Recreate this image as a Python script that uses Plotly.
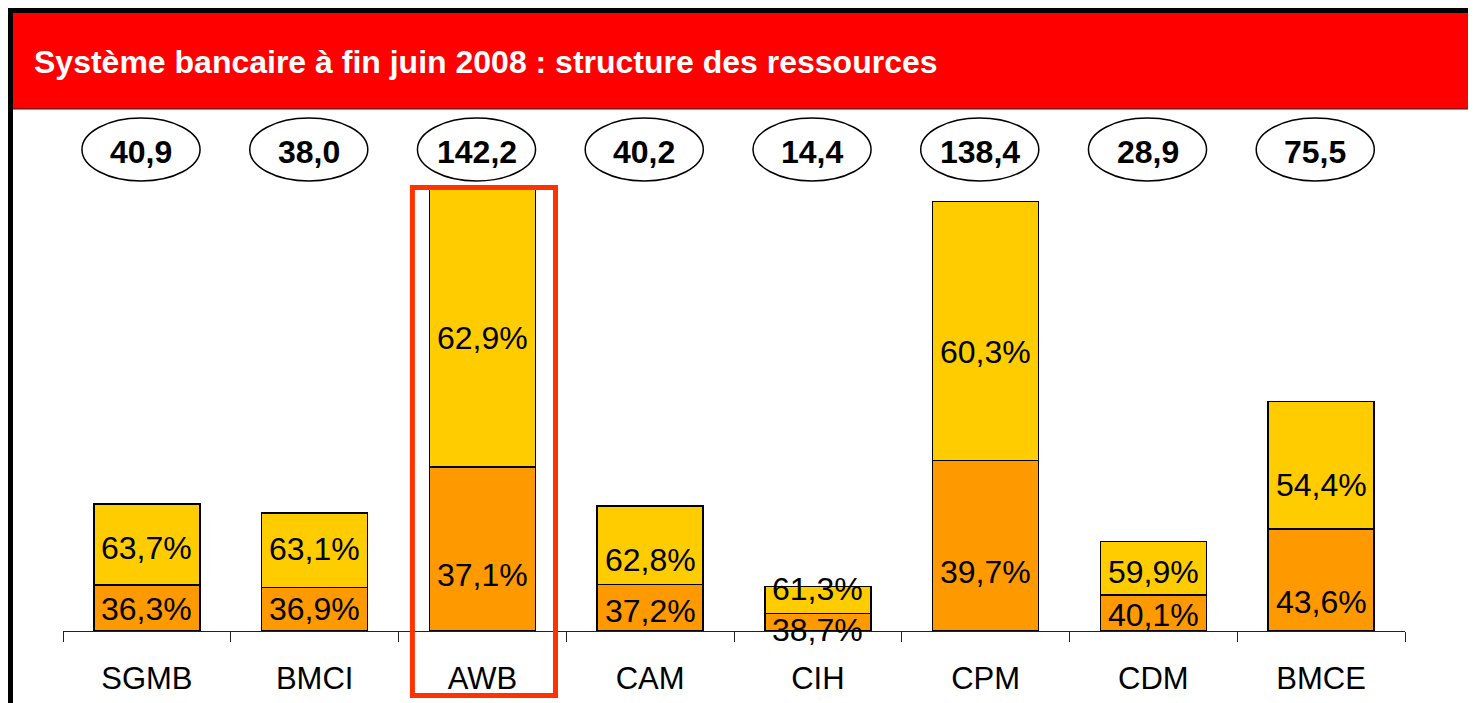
import plotly.graph_objects as go

# Ressources par banque (MMDH) et structure en %
banks = ["SGMB", "BMCI", "AWB", "CAM", "CIH", "CPM", "CDM", "BMCE"]
totals = [40.9, 38.0, 142.2, 40.2, 14.4, 138.4, 28.9, 75.5]
pct_low = [36.3, 36.9, 37.1, 37.2, 38.7, 39.7, 40.1, 43.6]
pct_high = [63.7, 63.1, 62.9, 62.8, 61.3, 60.3, 59.9, 54.4]

# label nudges (px, + = up), as placed in the original chart
shift_low = [-1, 0, -26, -3, -8, -26, -2, -22]
shift_high = [-4, 1, -10, -15, 11, -21, -4, -20]

FONT = "Liberation Sans, Arial, sans-serif"
W, H = 1476, 703
OFF = 8  # page body margin


def px(x):
    return (x - OFF) / W


def py(y):
    return (H - (y - OFF)) / H


def fr(v, pct=False):
    s = f"{v:.1f}".replace(".", ",")
    return s + "%" if pct else s


low_vals = [t * p / 100 for t, p in zip(totals, pct_low)]
high_vals = [t * p / 100 for t, p in zip(totals, pct_high)]

fig = go.Figure()
for vals, col in [(low_vals, "#FF9900"), (high_vals, "#FFCC00")]:
    fig.add_trace(go.Bar(
        x=banks, y=vals,
        marker=dict(color=col, line=dict(color="black", width=1.5)),
        hoverinfo="skip",
    ))

# plot area in page pixels
x_left, x_right = 63, 1405
y_base, y_top = 631, 109
px_per_unit = 3.105

shapes = []
# red title band + frame
shapes.append(dict(type="rect", xref="paper", yref="paper",
                   x0=px(13), x1=1.02, y0=py(109), y1=py(13),
                   fillcolor="#FF0000", line=dict(width=0), layer="below"))
shapes.append(dict(type="line", xref="paper", yref="paper",
                   x0=px(13), x1=1.02, y0=py(109), y1=py(109),
                   line=dict(color="#222222", width=1.2)))
shapes.append(dict(type="line", xref="paper", yref="paper",
                   x0=px(8), x1=1.02, y0=py(10.5), y1=py(10.5),
                   line=dict(color="black", width=5)))
shapes.append(dict(type="line", xref="paper", yref="paper",
                   x0=px(10.5), x1=px(10.5), y0=-0.02, y1=py(8),
                   line=dict(color="black", width=5)))

annotations = [dict(text="<b>Système bancaire à fin juin 2008 : structure des ressources</b>",
                    xref="paper", yref="paper", x=px(32), y=py(62),
                    xanchor="left", yanchor="middle", showarrow=False,
                    font=dict(family=FONT, size=32, color="white"))]

# percentage labels inside the segments
for b, lo, hi, pl, ph, sl, sh in zip(banks, low_vals, high_vals, pct_low, pct_high,
                                     shift_low, shift_high):
    annotations.append(dict(text=fr(pl, True), x=b, y=lo / 2, yshift=sl,
                            xref="x", yref="y", showarrow=False,
                            font=dict(family=FONT, size=32, color="black")))
    annotations.append(dict(text=fr(ph, True), x=b, y=lo + hi / 2, yshift=sh,
                            xref="x", yref="y", showarrow=False,
                            font=dict(family=FONT, size=32, color="black")))

# ellipses with totals
for i, t in enumerate(totals):
    cx = i - 0.035
    shapes.append(dict(type="circle", xref="x", yref="paper",
                       x0=cx - 0.352, x1=cx + 0.352,
                       y0=py(181), y1=py(118),
                       line=dict(color="black", width=1.5), fillcolor="white"))
    annotations.append(dict(text=f"<b>{fr(t)}</b>", xref="x", yref="paper",
                            x=cx, y=py(152), showarrow=False,
                            xanchor="center", yanchor="middle",
                            font=dict(family=FONT, size=32, color="black")))

# highlight box around AWB
shapes.append(dict(type="rect", xref="x", yref="paper",
                   x0=1.583, x1=2.436, y0=py(695.5), y1=py(187.5),
                   line=dict(color="#FF3300", width=5), fillcolor="rgba(0,0,0,0)"))

fig.update_layout(
    width=W, height=H,
    margin=dict(l=0, r=0, t=0, b=0),
    barmode="stack", bargap=0.368,
    showlegend=False,
    paper_bgcolor="white", plot_bgcolor="white",
    shapes=shapes, annotations=annotations,
    xaxis=dict(domain=[px(x_left), px(x_right)], type="category",
               showline=True, linecolor="#222222", linewidth=1.2,
               ticks="outside", tickson="boundaries", ticklen=10,
               tickcolor="#222222", tickwidth=1.2,
               tickfont=dict(family=FONT, size=31, color="black"),
               ticklabelstandoff=20, showgrid=False, zeroline=False),
    yaxis=dict(domain=[py(y_base), py(y_top)],
               range=[0, (y_base - y_top) / px_per_unit],
               visible=False, showgrid=False),
)

fig.write_html("out.html")
